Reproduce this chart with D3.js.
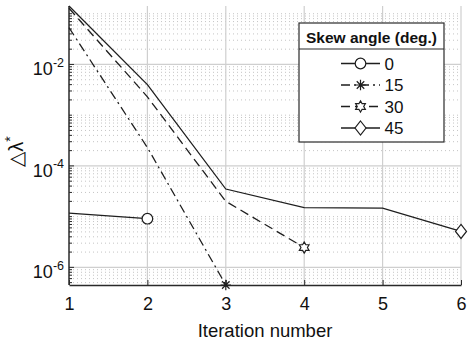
<!DOCTYPE html>
<html>
<head>
<meta charset="utf-8">
<script src="https://cdn.jsdelivr.net/npm/d3@7"></script>
<style>
  html, body { margin: 0; padding: 0; background: #fff; }
  svg { display: block; font-family: "Liberation Sans", Arial, Helvetica, sans-serif; }
</style>
</head>
<body>
<svg id="chart" width="474" height="340"></svg>
<script>
// Convergence of the eigenvalue increment for each skew angle
const iterations = [1, 2, 3, 4, 5, 6];
const xTickLabels = ["1", "2", "3", "4", "5", "6"];
const yTickExponents = [-6, -4, -2];

const skewLabels = ["0", "15", "30", "45"];
const skew0  = [1.17e-5, 9.1e-6];
const skew15 = [0.053, 2.3e-4, 4.49e-7];
const skew30 = [0.128, 2.3e-3, 2.0e-5, 2.46e-6];
const skew45 = [0.142, 4.0e-3, 3.5e-5, 1.5e-5, 1.47e-5, 5.1e-6];

const seriesValues = [skew0, skew15, skew30, skew45];
const dashes = [null, "9,4,2,4", "9,5", null];
const markers = ["circle", "asterisk", "hexagram", "diamond"];

const svg = d3.select("#chart");
const margin = { left: 69, top: 6, right: 13, bottom: 55 };
const W = 474 - margin.left - margin.right;
const H = 340 - margin.top - margin.bottom;

const allVals = seriesValues.flat();
const x = d3.scaleLinear().domain(d3.extent(iterations)).range([0, W]);
const y = d3.scaleLog().domain(d3.extent(allVals)).range([H, 0]);

const g = svg.append("g").attr("transform", `translate(${margin.left},${margin.top})`);

// minor log ticks (2..9 x 10^k plus the unlabelled decades)
const [yLo, yHi] = y.domain();
const minorTicks = [];
for (let e = Math.floor(Math.log10(yLo)); e <= Math.ceil(Math.log10(yHi)); e++) {
  for (let m = 1; m <= 9; m++) {
    const v = m * Math.pow(10, e);
    if (v < yLo || v > yHi) continue;
    if (m === 1 && yTickExponents.includes(e)) continue;
    minorTicks.push(v);
  }
}
const majorTicks = yTickExponents.map(e => Math.pow(10, e));

// grid
const grid = g.append("g");
grid.selectAll("line.minor").data(minorTicks).join("line")
  .attr("x1", 0).attr("x2", W)
  .attr("y1", d => y(d)).attr("y2", d => y(d))
  .attr("stroke", "#c4c4c4").attr("stroke-width", 1)
  .attr("stroke-dasharray", "1,3");
grid.selectAll("line.majorY").data(majorTicks).join("line")
  .attr("x1", 0).attr("x2", W)
  .attr("y1", d => y(d)).attr("y2", d => y(d))
  .attr("stroke", "#cfcfcf").attr("stroke-width", 1.2);
grid.selectAll("line.majorX").data(iterations.slice(1)).join("line")
  .attr("x1", d => x(d)).attr("x2", d => x(d))
  .attr("y1", 0).attr("y2", H)
  .attr("stroke", "#cfcfcf").attr("stroke-width", 1.2);

// axes
const axisColor = "#2a2a2a";
const xAxis = d3.axisBottom(x).tickValues(iterations)
  .tickFormat((d, i) => xTickLabels[i]).tickSizeInner(-5).tickSizeOuter(0).tickPadding(12);
const gx = g.append("g").attr("transform", `translate(0,${H})`).call(xAxis);
gx.select(".domain").attr("stroke", axisColor).attr("stroke-width", 1.5);
gx.selectAll(".tick line").attr("stroke", axisColor).attr("stroke-width", 1);
gx.selectAll(".tick text").attr("font-size", 18).attr("fill", "#111")
  .attr("font-family", "Liberation Sans, Arial, sans-serif");

const gy = g.append("g");
gy.append("line").attr("x1", 0).attr("x2", 0).attr("y1", 0).attr("y2", H)
  .attr("stroke", axisColor).attr("stroke-width", 1.5);
gy.selectAll("line.minorTick").data(minorTicks).join("line")
  .attr("x1", 0).attr("x2", 3).attr("y1", d => y(d)).attr("y2", d => y(d))
  .attr("stroke", axisColor).attr("stroke-width", 1);
gy.selectAll("line.majorTick").data(majorTicks).join("line")
  .attr("x1", 0).attr("x2", 5).attr("y1", d => y(d)).attr("y2", d => y(d))
  .attr("stroke", axisColor).attr("stroke-width", 1);

const yLabels = gy.selectAll("text.ylab").data(yTickExponents).join("text")
  .attr("x", -5).attr("y", d => y(Math.pow(10, d)) + 11)
  .attr("text-anchor", "end").attr("fill", "#111").attr("font-size", 18);
yLabels.append("tspan").text("10");
yLabels.append("tspan").attr("dy", -8.5).attr("font-size", 12.5).text(d => "-" + Math.abs(d));

// axis titles
g.append("text").attr("x", W / 2).attr("y", H + 52)
  .attr("text-anchor", "middle").attr("font-size", 18.5).attr("fill", "#111")
  .text("Iteration number");
const yt = svg.append("text")
  .attr("transform", `translate(23,${margin.top + H / 2 + 6}) rotate(-90)`)
  .attr("text-anchor", "middle").attr("font-size", 20).attr("fill", "#111");
yt.append("tspan").text("△λ");
yt.append("tspan").attr("dy", -8).attr("font-size", 14).text("*");

// series
const lineGen = d3.line().x((d, i) => x(iterations[i])).y(d => y(d));
const lineColor = "#1e1e1e";

function drawMarker(sel, type, cx, cy) {
  const m = sel.append("g").attr("transform", `translate(${cx},${cy})`)
    .attr("fill", "#fff").attr("stroke", lineColor).attr("stroke-width", 1.2);
  if (type === "circle") {
    m.append("circle").attr("r", 5.3);
  } else if (type === "diamond") {
    m.append("path").attr("d", "M0,-7L5.5,0L0,7L-5.5,0Z");
  } else if (type === "hexagram") {
    const R = 5.6, r = R / Math.sqrt(3);
    const pts = d3.range(12).map(k => {
      const a = -Math.PI / 2 + k * Math.PI / 6;
      const rr = k % 2 === 0 ? R : r;
      return [rr * Math.cos(a), rr * Math.sin(a)];
    });
    m.append("path").attr("d", "M" + pts.map(p => p.join(",")).join("L") + "Z");
  } else if (type === "asterisk") {
    const s = 5.2, d = s * 0.72;
    m.append("path").attr("fill", "none")
      .attr("d", `M${-s},0L${s},0M0,${-s}L0,${s}M${-d},${-d}L${d},${d}M${-d},${d}L${d},${-d}`);
  }
}

const series = g.append("g");
seriesValues.forEach((vals, k) => {
  series.append("path").datum(vals)
    .attr("d", lineGen).attr("fill", "none")
    .attr("stroke", lineColor).attr("stroke-width", 1.3)
    .attr("stroke-dasharray", dashes[k]);
  const last = vals.length - 1;
  drawMarker(series, markers[k], x(iterations[last]), y(vals[last]));
});

// legend
const lg = svg.append("g").attr("transform", "translate(299,23)");
lg.append("rect").attr("width", 145).attr("height", 119)
  .attr("fill", "#fff").attr("stroke", axisColor).attr("stroke-width", 1.2);
lg.append("line").attr("x1", 0).attr("x2", 145).attr("y1", 26).attr("y2", 26)
  .attr("stroke", axisColor).attr("stroke-width", 1.2);
lg.append("text").attr("x", 72.5).attr("y", 20).attr("text-anchor", "middle")
  .attr("font-weight", "bold").attr("font-size", 15.5).attr("fill", "#111")
  .text("Skew angle (deg.)");
skewLabels.forEach((lab, k) => {
  const cy = 40.5 + k * 21.5;
  lg.append("line").attr("x1", 42).attr("x2", 81).attr("y1", cy).attr("y2", cy)
    .attr("stroke", lineColor).attr("stroke-width", 1.3)
    .attr("stroke-dasharray", dashes[k]);
  drawMarker(lg, markers[k], 61.5, cy);
  lg.append("text").attr("x", 85.5).attr("y", cy + 6).attr("font-size", 17)
    .attr("fill", "#111").text(lab);
});
</script>
</body>
</html>
